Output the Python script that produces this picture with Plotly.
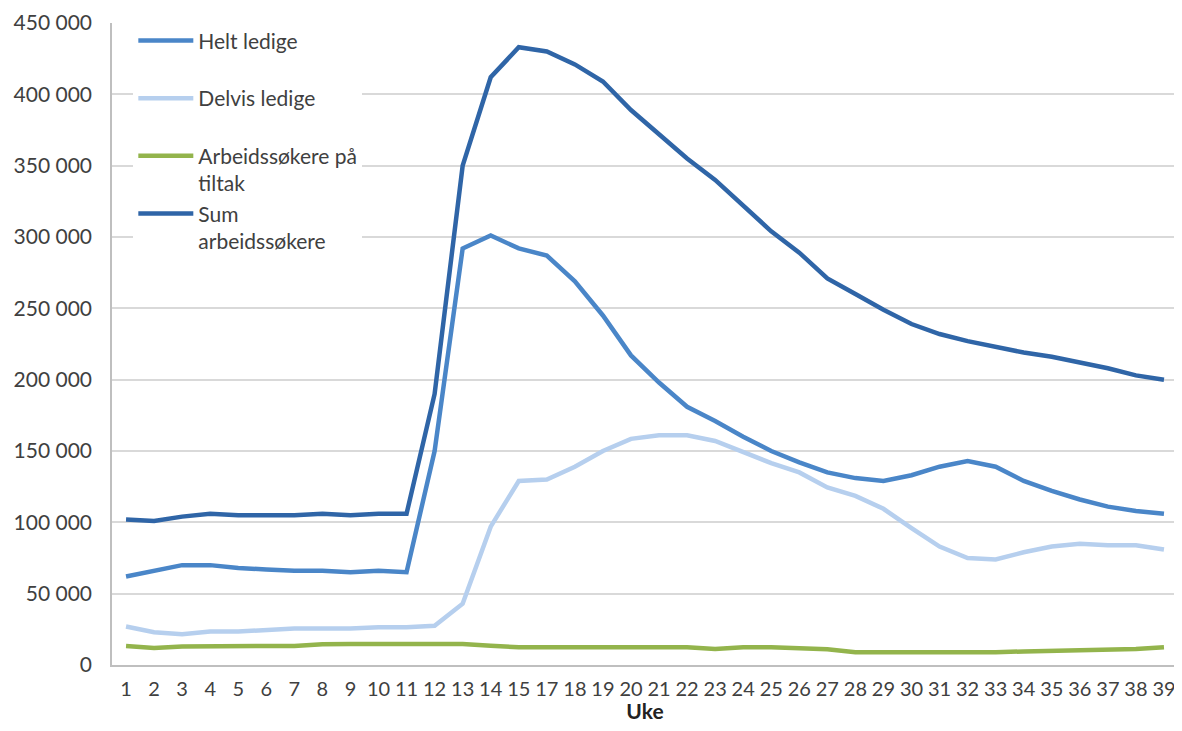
import plotly.graph_objects as go

weeks = [str(w) for w in list(range(1, 16)) + list(range(17, 40))]

helt_ledige = [62000, 66000, 70000, 70000, 68000, 67000, 66000, 66000, 65000, 66000, 65000,
               150000, 292000, 301000, 292000, 287000, 269000, 245000, 217000, 198000, 181000,
               171000, 160000, 150000, 142000, 135000, 131000, 129000, 133000, 139000, 143000,
               139000, 129000, 122000, 116000, 111000, 108000, 106000]

delvis_ledige = [27000, 23000, 21500, 23500, 23500, 24500, 25500, 25500, 25500, 26500, 26500,
                 27500, 43000, 97000, 129000, 130000, 139000, 150000, 158500, 161000, 161000,
                 157000, 149000, 141500, 135000, 124500, 118500, 109500, 96000, 83000, 75000,
                 74000, 79000, 83000, 85000, 84000, 84000, 81000]

tiltak = [13300, 12000, 13000, 13300, 13300, 13300, 13300, 14500, 14700, 14700, 14700,
          14700, 14700, 13500, 12400, 12400, 12400, 12400, 12400, 12400, 12400,
          11200, 12500, 12400, 11500, 11000, 9000, 8900, 8900, 8900, 8900,
          8900, 9500, 9800, 10000, 11000, 11200, 12500]

sum_arbeidssokere = [102000, 101000, 104000, 106000, 105000, 105000, 105000, 106000, 105000, 106000, 106000,
                     190000, 350000, 412000, 433000, 430000, 421000, 409000, 389000, 372000, 355000,
                     340000, 322000, 304000, 289000, 271000, 260000, 249000, 239000, 232000, 227000,
                     223000, 219000, 216000, 212000, 208000, 203000, 200000]

series = [
    ("Helt ledige<br> ", helt_ledige, "#4A86C8"),
    ("Delvis ledige<br> ", delvis_ledige, "#B6CFEE"),
    ("Arbeidssøkere på<br>tiltak", tiltak, "#93B44C"),
    ("Sum<br>arbeidssøkere", sum_arbeidssokere, "#2F65A7"),
]

FONT = "Lato"
TXT = "#404040"
FS = 21

fig = go.Figure()
for i, (name, vals, col) in enumerate(series):
    fig.add_trace(go.Scatter(
        x=weeks, y=vals, mode="lines", name=name,
        line=dict(color=col, width=4.5),
        legendgroup=f"g{i}",
    ))

fig.update_layout(
    width=1174, height=715,
    margin=dict(l=104, r=4, t=15, b=58),
    paper_bgcolor="white", plot_bgcolor="white",
    separators=", ",
    font=dict(family=FONT, size=FS, color=TXT),
    showlegend=True,
    legend=dict(
        x=0.02, y=1.004, xanchor="left", yanchor="top",
        bgcolor="white", borderwidth=0,
        font=dict(family=FONT, size=21, color=TXT),
        valign="top", tracegroupgap=0, itemwidth=55,
        traceorder="grouped",
    ),
    xaxis=dict(
        type="category", tickangle=0, showgrid=False, automargin=False,
        showline=True, linecolor="#BFBFBF", linewidth=1.5,
        ticks="", ticklabelstandoff=5,
        tickfont=dict(family=FONT, size=20, color=TXT),
        title=dict(text="<b>Uke</b>", font=dict(family=FONT, size=21, color="#222222"), standoff=13),
        range=[-0.5, len(weeks) - 0.5],
    ),
    yaxis=dict(
        range=[0, 450000], dtick=50000, tickformat=",d", automargin=False,
        showgrid=True, gridcolor="#D9D9D9", gridwidth=1.5,
        showline=True, linecolor="#BFBFBF", linewidth=1.5,
        zeroline=False, ticks="", ticklabelstandoff=14,
        tickfont=dict(family=FONT, size=FS, color=TXT),
    ),
)

fig.write_html("out.html")
